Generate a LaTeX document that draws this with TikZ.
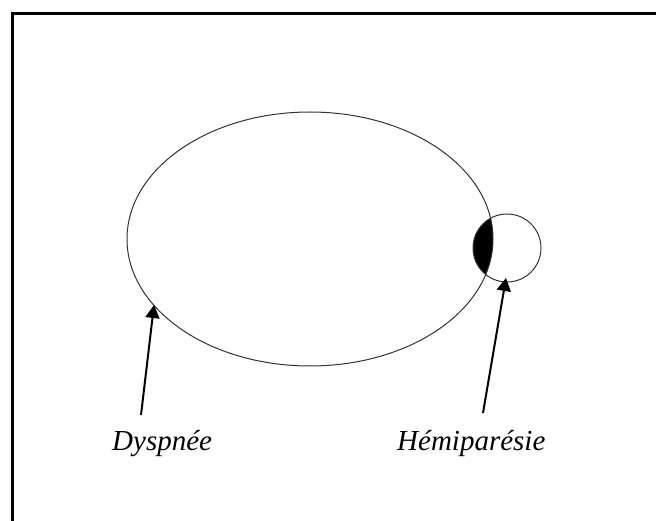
\documentclass[tikz,border=0pt]{standalone}
\usepackage{fontspec}
\setmainfont{Liberation Serif}
\usetikzlibrary{positioning,arrows.meta}

\begin{document}
\begin{tikzpicture}[x=1pt,y=-1pt,
          frame/.style={line width=3pt,black},
          outline/.style={line width=1pt,black!80},
          lbl/.style={anchor=base west,inner sep=0pt,
                      font=\fontsize{29}{34}\selectfont\itshape},
          ar/.style={-{Triangle[length=13pt,width=14pt]},line width=2pt}]
        \useasboundingbox (0,0) rectangle (656,521);
        \draw[frame] (12,521) -- (12,14) -- (656,14);
        % overlap of the two zones
        \begin{scope}
          \clip (507,248) circle (34);
          \fill (310,239) ellipse (183 and 127);
        \end{scope}
        \draw[outline] (310,239) ellipse (183 and 127);
        \draw[outline] (507,248) circle (34);
        \node[lbl] (D) at (112,450) {Dyspnée};
        \node[lbl] (H) at (397,450) {Hémiparésie};
        \coordinate (Dtail) at (141,415);
        \coordinate (Dtip) at (154,305);
        \coordinate (Htail) at (483,413);
        \coordinate (Htip) at (506,278);
        \draw[ar] (Dtail) -- (Dtip);
        \draw[ar] (Htail) -- (Htip);
      \end{tikzpicture}
\end{document}
